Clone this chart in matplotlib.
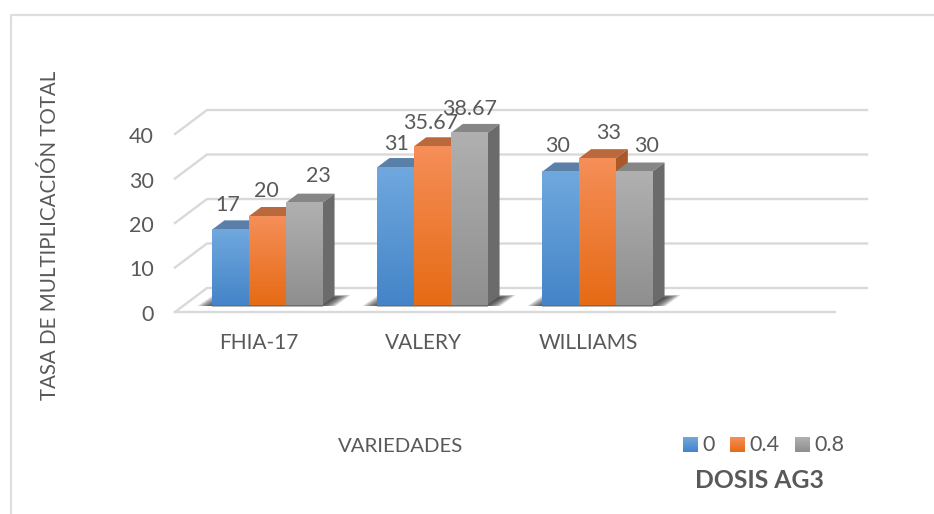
import numpy as np
import matplotlib
matplotlib.use("Agg")
import matplotlib.pyplot as plt
from matplotlib.patches import Polygon
from matplotlib.lines import Line2D

categories = ["FHIA-17", "VALERY", "WILLIAMS"]
series_names = ["0", "0.4", "0.8"]
dose_0 = [17, 31, 30]
dose_04 = [20, 35.67, 33]
dose_08 = [23, 38.67, 30]
value_labels = [["17", "31", "30"], ["20", "35.67", "33"], ["23", "38.67", "30"]]
y_ticks = [0, 10, 20, 30, 40]
series = [dose_0, dose_04, dose_08]

W, H = 934, 514
plt.rcParams["font.family"] = ["Lato", "DejaVu Sans"]
TXT = "#595959"
GRID = "#d9d9d9"

front_cols = [("#70a8de", "#4484c8"), ("#f58e58", "#e66b15"), ("#b0b0b0", "#8f8f8f")]
top_cols = ["#5a80aa", "#b9693c", "#868686"]
side_cols = ["#3f6590", "#a85a2a", "#6b6b6b"]
# label placement offsets from bar centre (pixels), per series then category
label_dx = [[-3, 1, -3], [-1, -2, 11], [14, 0, 12]]
label_dy = [[15, 14, 16], [16, 14, 16], [18, 15, 16]]

fig = plt.figure(figsize=(W / 100, H / 100), dpi=100, facecolor="white")
pg = fig.add_axes([0, 0, 1, 1])
pg.set_xlim(0, W); pg.set_ylim(H, 0); pg.axis("off")

PX_X = 165.0
PX_Y = 4.45
x0_px, y0_px = 267.5, 305.0
ax = fig.add_axes([0, 0, 1, 1], facecolor="none")
ax.axis("off")

def dx(p): return p / PX_X
def dy(p): return p / PX_Y

for t in y_ticks:
    fy = t + dy(-7)
    by = t + dy(17)
    ax.add_line(Line2D([dx(175 - x0_px), dx(207 - x0_px), dx(867 - x0_px)], [fy, by, by],
                       color=GRID, lw=1.7, zorder=1, solid_joinstyle="miter"))
    ax.text(dx(154 - x0_px), fy + dy(-3), str(t), ha="right", va="center",
            fontsize=15.5, color=TXT)
ax.add_line(Line2D([dx(175 - x0_px), dx(835 - x0_px)], [dy(-7), dy(-7)], color=GRID, lw=1.7, zorder=1))

bw = 36.7 / PX_X
n = len(series)
dX, dY = dx(12), dy(9)
for i, cat in enumerate(categories):
    xl = i - n * bw / 2
    xr = xl + n * bw
    for k in range(10):
        g = k * 1.6
        pts = [(xl - dx(15 - g), dy(-1)), (xr + dx(13 - g), dy(-1)),
               (xr + dx(28 - g), dy(10 - g * 0.15)), (xl + dx(1 + g), dy(10 - g * 0.15))]
        ax.add_patch(Polygon(pts, closed=True, fc="#262626", ec="none", alpha=0.14, zorder=2))
    ax.add_patch(Polygon([(xl, dy(0)), (xr, dy(0)), (xr, dy(-2)), (xl, dy(-2))],
                         closed=True, fc="#808080", ec="none", alpha=0.6, zorder=2))
    for s, vals in enumerate(series):
        v = vals[i]
        x1 = xl + s * bw
        x2 = x1 + bw
        ax.add_patch(Polygon([(x1, v), (x2, v), (x2 + dX, v + dY), (x1 + dX, v + dY)],
                             closed=True, fc=top_cols[s], ec="none", zorder=3 + s))
        ax.add_patch(Polygon([(x2, 0), (x2 + dX, dY), (x2 + dX, v + dY), (x2, v)],
                             closed=True, fc=side_cols[s], ec="none", zorder=3 + s))
        c1 = np.array(matplotlib.colors.to_rgb(front_cols[s][0]))
        c2 = np.array(matplotlib.colors.to_rgb(front_cols[s][1]))
        grad = np.linspace(0, 1, 64)[:, None, None] * (c2 - c1) + c1
        ax.imshow(grad, extent=(x1, x2, 0, v), origin="upper", aspect="auto",
                  zorder=3.5 + s, interpolation="bilinear")
        ax.text(x1 + bw / 2 + dx(label_dx[s][i]), v + dY + dy(label_dy[s][i]), value_labels[s][i],
                ha="center", va="center", fontsize=15.5, color=TXT, zorder=10)
    ax.text(i + dx(-9), dy(-38), cat, ha="center", va="center", fontsize=15, color=TXT)
ax.set_xlim((0 - x0_px) / PX_X, (W - x0_px) / PX_X)
ax.set_ylim((y0_px - H) / PX_Y, y0_px / PX_Y)

pg.add_line(Line2D([11, 11, W], [H, 15, 15], color="#dedede", lw=1.6))

pg.text(50, 235, "TASA DE MULTIPLICACIÓN TOTAL", rotation=90, ha="center", va="center", fontsize=14.8, color=TXT)
pg.text(401, 446, "VARIEDADES", ha="center", va="center", fontsize=14.7, color=TXT)

leg_x = [683, 730, 795]
leg_tx = [702, 749, 814]
for s, name in enumerate(series_names):
    c1 = np.array(matplotlib.colors.to_rgb(front_cols[s][0]))
    c2 = np.array(matplotlib.colors.to_rgb(front_cols[s][1]))
    grad = np.linspace(0, 1, 16)[:, None, None] * (c2 - c1) + c1
    pg.imshow(grad, extent=(leg_x[s], leg_x[s] + 14.5, 452, 437), aspect="auto", origin="upper")
    pg.text(leg_tx[s], 445, name, ha="left", va="center", fontsize=15.5, color=TXT)
pg.set_xlim(0, W); pg.set_ylim(H, 0)
pg.text(759, 481, "DOSIS AG3", ha="center", va="center", fontsize=17.8, fontweight="bold", color=TXT)

fig.savefig("out.png", dpi=100)
